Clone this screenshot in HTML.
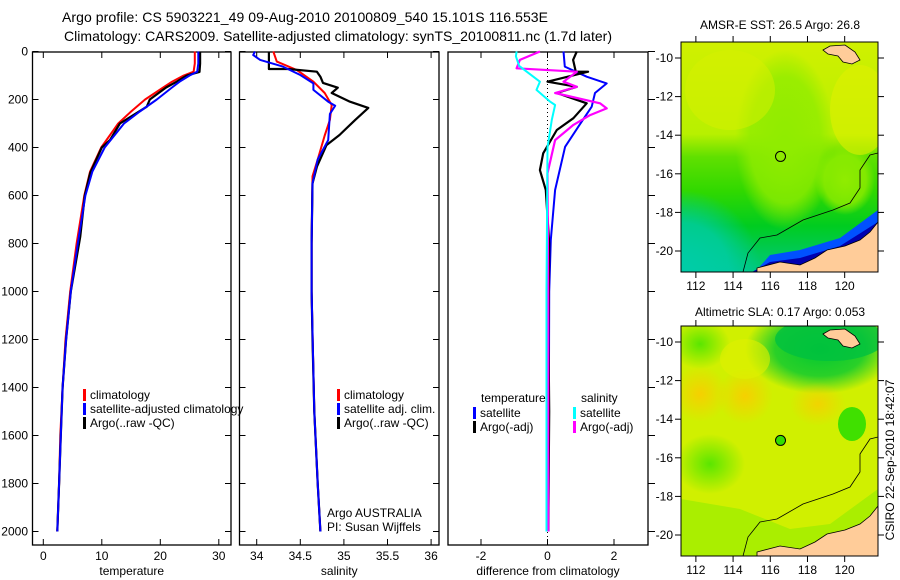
<!DOCTYPE html>
<html><head><meta charset="utf-8"><style>
html,body{margin:0;padding:0;background:#fff;}
svg{display:block;font-family:"Liberation Sans",Arial,sans-serif;}
text{font-size:12px;fill:#000;}
</style></head><body>
<svg id="s" width="900" height="580" viewBox="0 0 900 580" xmlns="http://www.w3.org/2000/svg">
<defs>
<radialGradient id="or"><stop offset="0" stop-color="#ffc800"/><stop offset="1" stop-color="#ffc800" stop-opacity="0"/></radialGradient>
<radialGradient id="gr"><stop offset="0" stop-color="#00c832"/><stop offset="0.6" stop-color="#00c832" stop-opacity="0.8"/><stop offset="1" stop-color="#00c832" stop-opacity="0"/></radialGradient>
<radialGradient id="lg"><stop offset="0" stop-color="#5ae600"/><stop offset="1" stop-color="#5ae600" stop-opacity="0"/></radialGradient>
<radialGradient id="lgc"><stop offset="0" stop-color="#90ec00"/><stop offset="0.7" stop-color="#90ec00" stop-opacity="0.8"/><stop offset="1" stop-color="#90ec00" stop-opacity="0"/></radialGradient>
<linearGradient id="sst" x1="0" y1="0" x2="0" y2="1">
<stop offset="0" stop-color="#d0f000"/><stop offset="0.4" stop-color="#b8f000"/><stop offset="0.5" stop-color="#60e000"/><stop offset="0.65" stop-color="#30d800"/><stop offset="0.8" stop-color="#00cc20"/><stop offset="1" stop-color="#00c880"/></linearGradient>
<radialGradient id="teal" cx="0" cy="1" r="1"><stop offset="0" stop-color="#00cca8"/><stop offset="0.6" stop-color="#00cca8" stop-opacity="0.8"/><stop offset="1" stop-color="#00cca8" stop-opacity="0"/></radialGradient>
<clipPath id="mapclip"><rect x="681" y="42" width="197" height="230"/></clipPath>
</defs>
<text x="62" y="22" style="font-size:14px" textLength="486">Argo profile: CS 5903221_49 09-Aug-2010 20100809_540 15.101S 116.553E</text>
<text x="64" y="41" style="font-size:14px" textLength="548">Climatology: CARS2009. Satellite-adjusted climatology: synTS_20100811.nc (1.7d later)</text>
<g id="plots"></g>
<g id="maps"></g>
</svg>
<script>
// ---- data ----
const tDepthArgo=[0,50,85,100,126,150,200,230,300,369,400,507,600,773,1000,1200,1400,1600,1800,2000];
const tArgo=[26.8,26.8,26.7,24.5,22.8,21.0,18.2,17.7,13.1,11.4,10.0,8.0,7.1,6.3,4.7,3.9,3.3,3.0,2.7,2.4];
const tDepthClim=[0,50,84,100,126,150,200,250,300,400,500,600,800,1000,1200,1400,1600,1800,2000];
const tClim=[25.9,25.9,25.7,24.0,22.0,20.5,17.4,15.0,12.8,9.9,8.0,7.0,5.7,4.6,3.8,3.3,2.9,2.7,2.4];
const tSat=[26.5,26.5,26.3,25.0,23.3,22.0,19.4,16.5,13.8,10.5,8.4,7.2,5.9,4.7,3.9,3.3,3.0,2.7,2.4];
const sDepthArgo=[0,73,73,84,105,131,151,173,209,235,285,348,390,480,550,800,1000,1200,1500,1800,2000];
const sArgo=[34.14,34.14,34.36,34.69,34.73,34.76,34.93,34.86,35.07,35.28,35.13,34.95,34.80,34.69,34.64,34.63,34.63,34.64,34.66,34.70,34.73];
const sDepthClim=[0,42,77,126,173,223,285,350,450,520,800,1000,1500,1800,2000];
const sClim=[34.19,34.23,34.46,34.65,34.78,34.86,34.84,34.78,34.70,34.64,34.63,34.63,34.66,34.70,34.73];
const sDepthSat=[0,15,35,63,98,133,160,209,226,260,369,450,550,800,1000,1500,1800,2000];
const sSat=[33.98,33.96,34.04,34.30,34.50,34.65,34.65,34.82,34.90,34.84,34.82,34.70,34.64,34.63,34.63,34.66,34.70,34.73];
const dDepthTS=[0,63,105,133,173,230,313,397,577,785,1000,2000];
const dTempSat=[0.48,0.52,1.18,1.78,1.43,1.33,0.93,0.53,0.23,0.10,0.05,0.03];
const dDepthTA=[0,35,84,84,126,147,173,216,278,327,424,494,577,800,1200,1500,2000];
const dTempArgo=[0.88,0.77,0.85,1.22,0.0,0.88,0.28,1.18,0.78,0.28,-0.13,-0.23,-0.05,0.05,0.03,0.05,0.02];
const dDepthSA=[0,35,70,84,126,147,173,216,237,265,306,369,507,1000,2000];
const dSalArgo=[-0.23,-0.83,-0.93,0.88,0.48,0.88,0.23,1.58,1.78,1.28,0.78,0.23,0.0,0.02,0.02];
const dDepthSS=[0,20,60,126,160,209,223,285,400,1000,2000];
const dSalSat=[-0.93,-0.95,-0.85,-0.23,-0.33,0.08,0.23,0.13,0.0,-0.03,-0.03];
const depthTicks=[0,200,400,600,800,1000,1200,1400,1600,1800,2000];
const tempTicks=[0,10,20,30];
const salTicks=[34,34.5,35,35.5,36];
const salTickLabels=["34","34.5","35","35.5","36"];
const diffTicks=[-2,0,2];
const latTicks=[10,12,14,16,18,20];
const lonTicks=[112,114,116,118,120];

const NS="http://www.w3.org/2000/svg";
const plots=document.getElementById('plots');
const maps=document.getElementById('maps');
function mk(tag,attrs,parent){const e=document.createElementNS(NS,tag);for(const k in attrs)e.setAttribute(k,attrs[k]);(parent||plots).appendChild(e);return e;}
const yD=d=>51.5+d*0.24;
const TOP=52,BOT=545;
const panels=[
 {name:'temperature',x0:32.5,x1:231,v0:0,px:5.85,x0v:43.3,ticks:tempTicks,labels:tempTicks.map(String),title:'temperature'},
 {name:'salinity',x0:239.5,x1:439,px:87.2,x0v:256.7,v0:34,ticks:salTicks,labels:salTickLabels,title:'salinity'},
 {name:'difference',x0:448,x1:648,px:33.25,x0v:547.5,v0:0,ticks:diffTicks,labels:["-2","0","2"],title:'difference from climatology'}
];
panels.forEach(p=>{p.sx=v=>p.x0v+(v-p.v0)*p.px;});
panels.forEach((p,i)=>{
 const g=mk('g',{});
 
 
 const r=mk('rect',{x:p.x0,y:TOP,width:p.x1-p.x0,height:BOT-TOP,fill:'none',stroke:'#000','stroke-width':1.3},g);
 
 
 p.ticks.forEach((t,j)=>{
  const x=p.sx(t);
  mk('line',{x1:x,x2:x,y1:TOP,y2:TOP+6,stroke:'#000'},g);
  mk('line',{x1:x,x2:x,y1:BOT,y2:BOT-6,stroke:'#000'},g);
  const tl=mk('text',{x:x,y:560,'text-anchor':'middle'},g);tl.textContent=p.labels[j];
  
  
 });
 depthTicks.forEach(d=>{
  const y=yD(d);
  if(i<2){mk('line',{x1:p.x0,x2:p.x0+6,y1:y,y2:y,stroke:'#000'},g);mk('line',{x1:p.x1,x2:p.x1-6,y1:y,y2:y,stroke:'#000'},g);}
  else{mk('line',{x1:p.x1,x2:p.x1+7,y1:y,y2:y,stroke:'#000'},g);}
  if(i==0){const tl=mk('text',{x:28,y:y+4,'text-anchor':'end'},g);tl.textContent=d;
   
   }
 });
 const at=mk('text',{x:(p.x0+p.x1)/2,y:575,'text-anchor':'middle'},g);at.textContent=p.title;
 
 
});
function line(p,ds,vs,color,w,name){
 const pts=ds.map((d,k)=>p.sx(vs[k]).toFixed(1)+','+yD(d).toFixed(1)).join(' ');
 const e=mk('polyline',{points:pts,fill:'none',stroke:color,'stroke-width':w,'stroke-linejoin':'round'});
 
 
}
const P=panels;
const z=mk('line',{x1:P[2].sx(0),x2:P[2].sx(0),y1:TOP,y2:BOT,stroke:'#000','stroke-dasharray':'1 3'});


line(P[0],tDepthClim,tClim,'#f00',2,'temp-climatology-line');
line(P[0],tDepthArgo,tArgo,'#000',2.2,'temp-argo-line');
line(P[0],tDepthClim,tSat,'#00f',2,'temp-satellite-line');
line(P[1],sDepthClim,sClim,'#f00',2,'sal-climatology-line');
line(P[1],sDepthArgo,sArgo,'#000',2.2,'sal-argo-line');
line(P[1],sDepthSat,sSat,'#00f',2,'sal-satellite-line');
line(P[2],dDepthTS,dTempSat,'#00f',2,'diff-temp-satellite-line');
line(P[2],dDepthTA,dTempArgo,'#000',2.2,'diff-temp-argo-line');
line(P[2],dDepthSA,dSalArgo,'#f0f',2.2,'diff-sal-argo-line');
line(P[2],dDepthSS,dSalSat,'#0ff',2,'diff-sal-satellite-line');
function leg(x,y,color,label,name){
 const m=mk('rect',{x:x,y:y-9,width:3,height:12,fill:color});
 
 
 const t=mk('text',{x:x+7,y:y+1});t.textContent=label;
 
 
}
leg(83,398,'#f00','climatology','legend-temp-climatology');
leg(83,412,'#00f','satellite-adjusted climatology','legend-temp-satellite');
leg(83,426,'#000','Argo(..raw -QC)','legend-temp-argo');
leg(337,398,'#f00','climatology','legend-sal-climatology');
leg(337,412,'#00f','satellite adj. clim.','legend-sal-satellite');
leg(337,426,'#000','Argo(..raw -QC)','legend-sal-argo');
let t=mk('text',{x:481,y:402});t.textContent='temperature';


t=mk('text',{x:581,y:402});t.textContent='salinity';


leg(473,416,'#00f','satellite','legend-diff-temp-satellite');
leg(473,430,'#000','Argo(-adj)','legend-diff-temp-argo');
leg(573,416,'#0ff','satellite','legend-diff-sal-satellite');
leg(573,430,'#f0f','Argo(-adj)','legend-diff-sal-argo');
t=mk('text',{x:327,y:517});t.textContent='Argo AUSTRALIA';


t=mk('text',{x:327,y:531});t.textContent='PI: Susan Wijffels';



// ---- maps ----
const lx=lon=>681+(lon-111.2)*18.6;
const ly=lat=>58+(lat-10)*19.3;
function map(dy,kind){
 const g=mk('g',{transform:'translate(0,'+dy+')'},maps);
 
 
 const c=mk('g',{'clip-path':'url(#mapclip)'},g);
 if(kind==='sst'){
  mk('rect',{x:681,y:42,width:197,height:230,fill:'url(#sst)'},c);
  mk('ellipse',{cx:785,cy:140,rx:50,ry:90,fill:'url(#lgc)'},c);
  mk('ellipse',{cx:845,cy:180,rx:30,ry:35,fill:'url(#lgc)'},c);
  mk('ellipse',{cx:730,cy:90,rx:45,ry:40,fill:'#d8f000',opacity:0.5},c);
  mk('ellipse',{cx:860,cy:110,rx:30,ry:45,fill:'#e0f000',opacity:0.6},c);
  mk('rect',{x:681,y:190,width:80,height:82,fill:'url(#teal)'},c);
  mk('polygon',{points:'755,272 770,255 800,250 840,238 878,210 878,272',fill:'#0050ff'},c);
  mk('polygon',{points:'752,272 770,262 800,258 840,246 878,222 878,272',fill:'#0000b0'},c);
 } else {
  mk('rect',{x:681,y:42,width:197,height:230,fill:'#d0f000'},c);
  mk('ellipse',{cx:820,cy:65,rx:75,ry:45,fill:'url(#gr)'},c);
  mk('ellipse',{cx:830,cy:55,rx:55,ry:22,fill:'#00c040',opacity:0.8},c);
  mk('ellipse',{cx:700,cy:110,rx:28,ry:28,fill:'url(#or)',opacity:0.8},c);
  mk('ellipse',{cx:745,cy:112,rx:28,ry:28,fill:'url(#or)',opacity:0.8},c);
  mk('ellipse',{cx:818,cy:120,rx:28,ry:22,fill:'url(#or)',opacity:0.7},c);
  mk('ellipse',{cx:852,cy:140,rx:14,ry:17,fill:'#40e000'},c);
  mk('ellipse',{cx:710,cy:180,rx:35,ry:30,fill:'url(#lg)'},c);
  mk('ellipse',{cx:700,cy:60,rx:30,ry:25,fill:'url(#lg)'},c);
  mk('ellipse',{cx:745,cy:75,rx:25,ry:20,fill:'#e0f000',opacity:0.6},c);
  mk('polygon',{points:'681,272 681,215 740,225 790,245 830,240 878,205 878,272',fill:'#a0ee00',opacity:0.8},c);
 }
 mk('polygon',{points:'757,272 757,268 780,262 800,265 815,258 827,250 845,246 860,240 870,232 878,222 878,272',fill:'#ffcc99',stroke:'#000','stroke-width':0.8},c);
 mk('polygon',{points:'823,50 830,46 845,45 855,52 860,60 852,64 843,62 838,56 828,54',fill:'#ffcc99',stroke:'#000','stroke-width':0.8},c);
 mk('polyline',{points:'743,272 748,253 760,238 777,235 803,220 833,210 850,203 860,188 860,170 870,155 878,153',fill:'none',stroke:'#000','stroke-width':0.8},c);
 mk('rect',{x:681,y:42,width:197,height:230,fill:'none',stroke:'#000','stroke-width':1},g);
 const cm=mk('circle',{cx:lx(116.55),cy:ly(15.1),r:5,fill:kind==='sst'?'none':'#33dd00',stroke:'#000','stroke-width':1},g);
 
 
 latTicks.forEach(l=>{const y=ly(l);
  mk('line',{x1:878,x2:884,y1:y,y2:y,stroke:'#000'},g);
  mk('line',{x1:675,x2:681,y1:y,y2:y,stroke:'#000'},g);
  const tl=mk('text',{x:673,y:y+4,'text-anchor':'end'},g);tl.textContent='-'+l;
  
  });
 lonTicks.forEach(l=>{const x=lx(l);
  mk('line',{x1:x,x2:x,y1:272,y2:278,stroke:'#000'},g);
  mk('line',{x1:x,x2:x,y1:36,y2:42,stroke:'#000'},g);
  const tl=mk('text',{x:x,y:290,'text-anchor':'middle'},g);tl.textContent=l;
  
  });
}
map(0,'sst');
map(284,'sla');
t=mk('text',{x:780,y:29,'text-anchor':'middle'},maps);t.textContent='AMSR-E SST: 26.5 Argo: 26.8';


t=mk('text',{x:780,y:316,'text-anchor':'middle'},maps);t.textContent='Altimetric SLA: 0.17 Argo: 0.053';


t=mk('text',{x:894,y:460,'text-anchor':'middle',transform:'rotate(-90 894 460)'},maps);t.textContent='CSIRO 22-Sep-2010 18:42:07';


</script>
</body></html>
